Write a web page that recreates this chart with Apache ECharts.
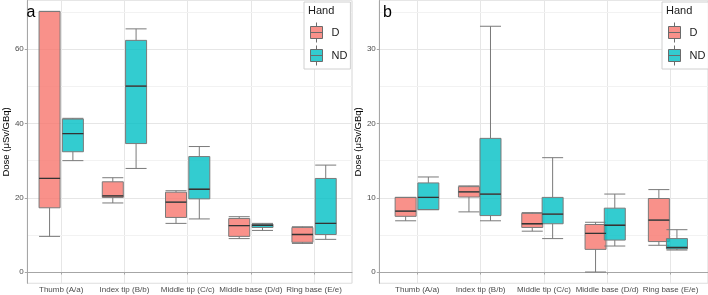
<!DOCTYPE html>
<html>
<head>
<meta charset="utf-8">
<script src="https://cdn.jsdelivr.net/npm/echarts@6/dist/echarts.min.js"></script>
<style>
  html, body { margin: 0; padding: 0; background: #fff; }
  #main { width: 708px; height: 295px; }
</style>
</head>
<body>
<div id="main"></div>
<script>
const categories = ['Thumb (A/a)', 'Index tip (B/b)', 'Middle tip (C/c)', 'Middle base (D/d)', 'Ring base (E/e)'];
const handNames = ['D', 'ND'];

// [lower whisker, Q1, median, Q3, upper whisker]
const doseA_D = [
  [9.6, 17.3, 25.2, 70.2, 70.2],
  [18.6, 20.1, 20.5, 24.3, 25.4],
  [13.1, 14.7, 18.8, 21.5, 21.9],
  [9.0, 9.6, 12.5, 14.4, 14.9],
  [7.7, 8.0, 10.1, 12.0, 12.2]
];
const doseA_ND = [
  [30.0, 32.4, 37.3, 41.2, 41.4],
  [27.9, 34.6, 50.1, 62.4, 65.5],
  [14.3, 19.7, 22.3, 31.1, 33.8],
  [11.2, 12.0, 12.6, 12.9, 13.1],
  [8.8, 10.1, 13.1, 25.2, 28.8]
];
const doseB_D = [
  [6.9, 7.5, 8.2, 10.05, 10.05],
  [8.1, 10.1, 10.8, 11.5, 11.6],
  [5.5, 6.0, 6.5, 7.9, 8.0],
  [0, 3.05, 5.2, 6.4, 6.7],
  [3.6, 4.1, 7.0, 9.9, 11.1]
];
const doseB_ND = [
  [8.4, 8.4, 10.05, 12.0, 12.8],
  [6.9, 7.6, 10.5, 18.0, 33.1],
  [4.5, 6.5, 7.8, 10.05, 15.4],
  [3.5, 4.3, 6.3, 8.6, 10.5],
  [2.96, 3.1, 3.3, 4.5, 5.7]
];

const minorTicksA = [10, 30, 50, 70];
const minorTicksB = [5, 15, 25, 35];

const FONT = '"Liberation Sans", Arial, sans-serif';
const fills = ['rgba(248,118,109,0.8)', 'rgba(0,191,196,0.8)'];
const keyIcon = 'path://M0,4H12V16H0Z M6,0V4 M6,16V20 M0,10H12';
const axisGrey = '#a6a6a6';

const option = {
  animation: false,
  textStyle: { fontFamily: FONT },
  grid: [],
  xAxis: [],
  yAxis: [],
  series: [],
  legend: [],
  graphic: []
};

// one ggplot-like panel: frame grid + label grid + one dodged grid per hand
const addPanel = (p) => {
  const unit = p.width / 5.2;
  const inner = p.left + unit * 0.1;
  const yRange = { min: p.min, max: p.max };
  const top = 0.5;
  const height = 282.8;

  const frame = option.grid.length;
  option.grid.push({ left: p.left, top, width: p.width, height, show: true, borderColor: '#d6d6d6', borderWidth: 1 });
  const fx = option.xAxis.length;
  option.xAxis.push({
    type: 'value', gridIndex: frame, min: 0, max: 1,
    axisLine: { show: true, lineStyle: { color: axisGrey } },
    axisTick: { show: false }, axisLabel: { show: false }, splitLine: { show: false }
  });
  const fy = option.yAxis.length;
  option.yAxis.push({
    type: 'value', gridIndex: frame, ...yRange,
    name: 'Dose (μSv/GBq)', nameLocation: 'middle', nameGap: p.nameGap,
    nameTextStyle: { fontSize: 9.5, color: '#000' },
    axisLine: { show: true, lineStyle: { color: axisGrey } },
    axisTick: { show: true, length: 2.5, lineStyle: { color: axisGrey } },
    axisLabel: { fontSize: 8, color: '#4d4d4d', margin: 3.5, showMinLabel: false, showMaxLabel: false },
    splitLine: { show: true, lineStyle: { color: '#e6e6e6' } }
  });
  option.series.push({
    type: 'line', name: 'minor', xAxisIndex: fx, yAxisIndex: fy, data: [], z: 0, silent: true,
    markLine: {
      silent: true, symbol: 'none', z: 0, animation: false,
      label: { show: false },
      lineStyle: { color: '#f2f2f2', type: 'solid', width: 1 },
      data: p.minor.map((v) => ({ yAxis: v }))
    }
  });

  const lab = option.grid.length;
  option.grid.push({ left: inner, top, width: unit * 5, height });
  option.xAxis.push({
    type: 'category', gridIndex: lab, data: categories, boundaryGap: true,
    axisLine: { show: false },
    axisTick: { show: true, alignWithLabel: true, length: 2.5, lineStyle: { color: axisGrey } },
    axisLabel: { fontSize: 8, color: '#4d4d4d', margin: 2.5, interval: 0 },
    splitLine: { show: true, alignWithLabel: true, lineStyle: { color: '#e6e6e6' } }
  });
  option.yAxis.push({ type: 'value', gridIndex: lab, ...yRange, show: false });

  p.series.forEach((vals, k) => {
    const gi = option.grid.length;
    option.grid.push({ left: inner + (k === 0 ? -p.dodge : p.dodge), top, width: unit * 5, height });
    const xi = option.xAxis.length;
    option.xAxis.push(
      { type: 'category', gridIndex: gi, data: categories, show: false },
      { type: 'category', gridIndex: gi, data: categories, show: false }
    );
    const yi = option.yAxis.length;
    option.yAxis.push({ type: 'value', gridIndex: gi, ...yRange, show: false });
    option.series.push({
      type: 'boxplot', name: handNames[k], xAxisIndex: xi, yAxisIndex: yi,
      data: vals, boxWidth: [21, 21], z: 2,
      itemStyle: { color: fills[k], borderColor: '#7a7a7a', borderWidth: 1 },
      emphasis: { disabled: true }
    });
    option.series.push({
      type: 'boxplot', name: handNames[k] + ' median', xAxisIndex: xi + 1, yAxisIndex: yi,
      data: vals.map((v) => [v[2], v[2], v[2], v[2], v[2]]), boxWidth: [21, 21], z: 3,
      itemStyle: { color: 'none', borderColor: '#333', borderWidth: 1.3 },
      emphasis: { disabled: true }
    });
  });

  option.legend.push({
    left: p.legendLeft, top: 2, orient: 'vertical', selectedMode: false,
    data: handNames.map((n, k) => ({ name: n, itemStyle: { color: fills[k] } })),
    icon: keyIcon, itemWidth: 12, itemHeight: 20, itemGap: 2,
    padding: [20, 3, 3, 6], borderColor: '#d0d0d0', borderWidth: 1, backgroundColor: '#fff',
    itemStyle: { borderColor: '#6b6b6b', borderWidth: 1 },
    textStyle: { fontSize: 11, color: '#1a1a1a', padding: [0, 0, 0, 4] }
  });
  option.graphic.push(
    { type: 'text', x: p.legendLeft + 4, y: 11, z: 100, style: { text: 'Hand', fill: '#1a1a1a', font: '11px ' + FONT, verticalAlign: 'middle' } },
    { type: 'text', x: p.letterX, y: 12.5, z: 100, style: { text: p.letter, fill: '#000', font: '16px ' + FONT, verticalAlign: 'middle' } }
  );
};

addPanel({ left: 23.3, width: 328.7, min: -3.04, max: 73.14, nameGap: 13, dodge: 11.65,
  series: [doseA_D, doseA_ND], minor: minorTicksA, legendLeft: 304, letter: 'a', letterX: 26.5 });
addPanel({ left: 379.3, width: 329.2, min: -1.52, max: 36.57, nameGap: 16, dodge: 11.65,
  series: [doseB_D, doseB_ND], minor: minorTicksB, legendLeft: 662, letter: 'b', letterX: 383 });

const myChart = echarts.init(document.getElementById('main'));
myChart.setOption(option);
</script>
</body>
</html>
